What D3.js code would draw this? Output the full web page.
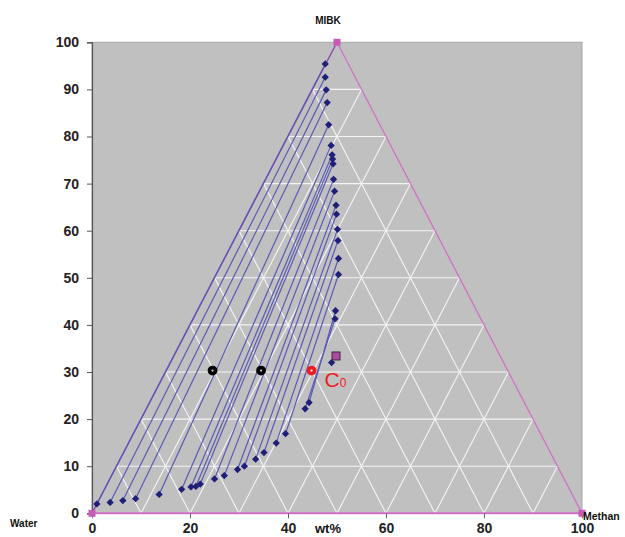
<!DOCTYPE html>
<html>
<head>
<meta charset="utf-8">
<script src="https://cdn.jsdelivr.net/npm/d3@7"></script>
<style>
  html, body { margin: 0; padding: 0; background: #fff; }
  svg { display: block; }
  text { font-family: "Liberation Sans", Arial, sans-serif; }
</style>
</head>
<body>
<svg id="chart" width="625" height="537"></svg>
<script>
// Tie-line end points (wt%): water-rich phase (bottom) and MIBK-rich phase (top)
const tieBottomX = [1.0, 3.7, 6.3, 8.9, 13.7, 18.3, 20.2, 21.2, 22.1, 25.0, 27.0, 29.7, 31.1, 33.4, 35.1, 37.6, 39.5, 43.5, 44.3];
const tieBottomY = [2.0, 2.3, 2.7, 3.1, 4.0, 5.1, 5.6, 5.7, 6.2, 7.3, 8.0, 9.3, 10.0, 11.5, 12.9, 14.9, 16.9, 22.2, 23.5];
const tieTopX = [47.6, 47.6, 47.8, 48.0, 48.3, 48.8, 49.0, 49.1, 49.2, 49.3, 49.5, 49.8, 49.9, 50.1, 50.2, 50.3, 50.3, 49.6, 49.7];
const tieTopY = [95.4, 92.6, 89.9, 87.2, 82.5, 78.1, 76.1, 75.2, 74.2, 70.9, 68.4, 65.4, 63.5, 60.3, 57.9, 54.1, 50.7, 41.3, 43.0];

// Plait point and the overall feed composition
const plaitPoint = [48.9, 32.0];
const feedPoint = [49.8, 33.4];

// Mixture points on the 30 wt% line (black) and the start composition C0 (red)
const mixX = [24.6, 34.5];
const mixY = [30.3, 30.3];
const c0Point = [44.8, 30.3];

// Triangle corners: Water, MIBK, Methan
const cornerX = [0, 50, 100];
const cornerY = [0, 100, 0];

const xTicks = [0, 20, 40, 60, 80, 100];
const yTicks = [0, 10, 20, 30, 40, 50, 60, 70, 80, 90, 100];
const gridSteps = [10, 20, 30, 40, 50, 60, 70, 80, 90];

const svg = d3.select("#chart");
const x = d3.scaleLinear().domain([0, 100]).range([92, 582]);
const y = d3.scaleLinear().domain([0, 100]).range([513.3, 42.3]);

// plot background
svg.append("rect")
  .attr("x", x(0)).attr("y", y(100))
  .attr("width", x(100) - x(0)).attr("height", y(0) - y(100))
  .attr("fill", "#c0c0c0")
  .attr("stroke", "#a6a6a6").attr("stroke-width", 1);

// ternary grid lines (white)
const grid = svg.append("g").attr("stroke", "#f4f4f4").attr("stroke-width", 1.1).attr("fill", "none");
gridSteps.forEach(k => {
  // horizontal: constant MIBK
  grid.append("line")
    .attr("x1", x(k / 2)).attr("y1", y(k))
    .attr("x2", x(100 - k / 2)).attr("y2", y(k));
  // parallel to the Water–MIBK edge
  grid.append("line")
    .attr("x1", x(k)).attr("y1", y(0))
    .attr("x2", x(k + (100 - k) / 2)).attr("y2", y(100 - k));
  // parallel to the Methan–MIBK edge
  grid.append("line")
    .attr("x1", x(k)).attr("y1", y(0))
    .attr("x2", x(k / 2)).attr("y2", y(k));
});

// triangle edges
svg.append("line")
  .attr("x1", x(cornerX[0])).attr("y1", y(cornerY[0]))
  .attr("x2", x(cornerX[1])).attr("y2", y(cornerY[1]))
  .attr("stroke", "#8a3fb0").attr("stroke-width", 1.3);
svg.append("line")
  .attr("x1", x(cornerX[1])).attr("y1", y(cornerY[1]))
  .attr("x2", x(cornerX[2])).attr("y2", y(cornerY[2]))
  .attr("stroke", "#d070c8").attr("stroke-width", 1.3);
svg.append("line")
  .attr("x1", x(cornerX[0])).attr("y1", y(cornerY[0]))
  .attr("x2", x(cornerX[2])).attr("y2", y(cornerY[2]))
  .attr("stroke", "#d070c8").attr("stroke-width", 2);

// axes
const yAxis = d3.axisLeft(y).tickValues(yTicks).tickSize(5).tickPadding(8);
const gy = svg.append("g").attr("transform", `translate(${x(0)},0)`).call(yAxis);
gy.select(".domain").attr("stroke", "#555").attr("stroke-width", 1.2);
gy.selectAll(".tick line").attr("stroke", "#555");
gy.selectAll(".tick text").attr("font-size", 14).attr("font-weight", "bold").attr("fill", "#222")
  .attr("font-family", "Liberation Sans, Arial, sans-serif");

const xAxis = d3.axisBottom(x).tickValues(xTicks).tickSize(5).tickPadding(5);
const gx = svg.append("g").attr("transform", `translate(0,${y(0)})`).call(xAxis);
gx.select(".domain").remove();
gx.selectAll(".tick line").attr("stroke", "#666");
gx.selectAll(".tick text").attr("font-size", 14).attr("font-weight", "bold").attr("fill", "#222")
  .attr("font-family", "Liberation Sans, Arial, sans-serif");

// tie lines
const ties = tieBottomX.map((bx, i) => ({ bx, by: tieBottomY[i], tx: tieTopX[i], ty: tieTopY[i] }));
svg.append("g").selectAll("line").data(ties).join("line")
  .attr("x1", d => x(d.bx)).attr("y1", d => y(d.by))
  .attr("x2", d => x(d.tx)).attr("y2", d => y(d.ty))
  .attr("stroke", "#5a5ab4").attr("stroke-width", 1.2);

// diamonds at the tie-line ends
const diamond = d3.symbol().type(d3.symbolDiamond2).size(34);
const ends = [];
ties.forEach(d => { ends.push([d.bx, d.by]); ends.push([d.tx, d.ty]); });
ends.push(plaitPoint);
svg.append("g").selectAll("path").data(ends).join("path")
  .attr("d", diamond)
  .attr("transform", d => `translate(${x(d[0])},${y(d[1])})`)
  .attr("fill", "#1f1f7a");

// corner squares
svg.append("g").selectAll("rect").data(cornerX.map((cx, i) => [cx, cornerY[i]])).join("rect")
  .attr("x", d => x(d[0]) - 3.5).attr("y", d => y(d[1]) - 3.5)
  .attr("width", 7).attr("height", 7)
  .attr("fill", "#c85ab8");

// feed point square
svg.append("rect")
  .attr("x", x(feedPoint[0]) - 4).attr("y", y(feedPoint[1]) - 4)
  .attr("width", 8).attr("height", 8)
  .attr("fill", "#b04aa0").attr("stroke", "#3a2a3a").attr("stroke-width", 1);

// mixture points
svg.append("g").selectAll("circle").data(mixX.map((mx, i) => [mx, mixY[i]])).join("circle")
  .attr("cx", d => x(d[0])).attr("cy", d => y(d[1])).attr("r", 3)
  .attr("fill", "#d8d8d8").attr("stroke", "#000").attr("stroke-width", 3.8);
svg.append("circle")
  .attr("cx", x(c0Point[0])).attr("cy", y(c0Point[1])).attr("r", 3)
  .attr("fill", "#fff").attr("stroke", "#ee1c24").attr("stroke-width", 3.8);

// C0 label
const c0 = svg.append("text")
  .attr("x", x(c0Point[0]) + 13).attr("y", y(c0Point[1]) + 16)
  .attr("fill", "#ee1c24").attr("font-size", 21)
  .attr("font-family", "Open Sans, Liberation Sans, sans-serif");
c0.append("tspan").text("C");
c0.append("tspan").attr("font-size", 12).attr("dy", 0).text("0");

// corner and axis titles
svg.append("text").attr("x", 328).attr("y", 24).attr("text-anchor", "middle")
  .attr("font-size", 10).attr("font-weight", "bold").attr("fill", "#111").text("MIBK");
svg.append("text").attr("x", 10).attr("y", 527)
  .attr("font-size", 10).attr("font-weight", "bold").attr("fill", "#111").text("Water");
svg.append("text").attr("x", 583).attr("y", 520)
  .attr("font-size", 10.5).attr("font-weight", "bold").attr("fill", "#111").text("Methan");
svg.append("text").attr("x", 328).attr("y", 533).attr("text-anchor", "middle")
  .attr("font-size", 13).attr("font-weight", "bold").attr("fill", "#111").text("wt%");
</script>
</body>
</html>
